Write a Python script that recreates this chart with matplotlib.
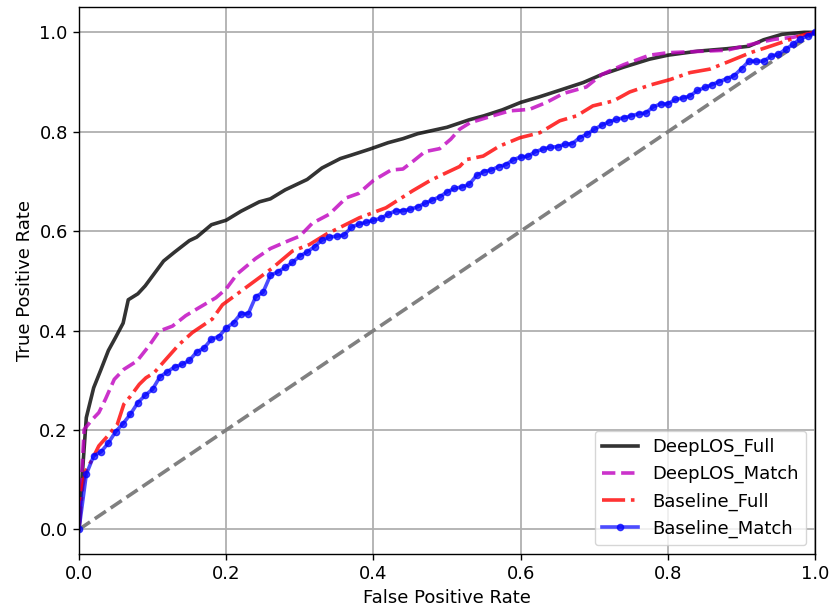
import numpy as np
import matplotlib
matplotlib.use('Agg')
import matplotlib.pyplot as plt

# ROC curves
deep_full_fpr = [0, 0.005, 0.01, 0.02, 0.03, 0.04, 0.05, 0.06, 0.067, 0.08, 0.09, 0.10, 0.115, 0.13,
                 0.15, 0.16, 0.18, 0.20, 0.22, 0.245, 0.26, 0.28, 0.31, 0.33, 0.355, 0.37, 0.395, 0.42,
                 0.44, 0.46, 0.50, 0.53, 0.55, 0.575, 0.60, 0.625, 0.65, 0.685, 0.71, 0.74, 0.775, 0.80,
                 0.84, 0.88, 0.91, 0.93, 0.955, 0.985, 1.0]
deep_full_tpr = [0, 0.12, 0.225, 0.285, 0.322, 0.36, 0.387, 0.415, 0.462, 0.474, 0.49, 0.51, 0.54, 0.558,
                 0.581, 0.588, 0.613, 0.622, 0.640, 0.659, 0.665, 0.683, 0.704, 0.727, 0.746, 0.753, 0.765, 0.778,
                 0.786, 0.796, 0.809, 0.824, 0.832, 0.844, 0.859, 0.870, 0.882, 0.899, 0.915, 0.930, 0.946, 0.954,
                 0.962, 0.967, 0.972, 0.985, 0.996, 1.0, 1.0]

deep_match_fpr = [0, 0.007, 0.018, 0.027, 0.036, 0.048, 0.061, 0.079, 0.095, 0.109, 0.127, 0.145, 0.163,
                  0.186, 0.20, 0.215, 0.24, 0.26, 0.285, 0.30, 0.317, 0.34, 0.363, 0.38, 0.40, 0.424, 0.44,
                  0.455, 0.47, 0.49, 0.505, 0.517, 0.531, 0.553, 0.585, 0.612, 0.635, 0.658, 0.689, 0.71,
                  0.74, 0.775, 0.80, 0.88, 0.925, 0.945, 0.97, 1.0]
deep_match_tpr = [0, 0.201, 0.221, 0.235, 0.262, 0.302, 0.322, 0.339, 0.369, 0.399, 0.409, 0.430, 0.446,
                  0.466, 0.484, 0.514, 0.545, 0.565, 0.581, 0.590, 0.616, 0.634, 0.667, 0.676, 0.702, 0.723, 0.725,
                  0.742, 0.760, 0.766, 0.785, 0.805, 0.818, 0.828, 0.842, 0.845, 0.859, 0.877, 0.890, 0.915,
                  0.935, 0.954, 0.959, 0.964, 0.980, 0.986, 0.990, 1.0]

base_full_fpr = [0, 0.005, 0.009, 0.018, 0.027, 0.039, 0.052, 0.061, 0.070, 0.082, 0.091, 0.102, 0.118,
                 0.136, 0.154, 0.181, 0.195, 0.218, 0.240, 0.262, 0.29, 0.313, 0.336, 0.358, 0.381, 0.399,
                 0.417, 0.435, 0.453, 0.476, 0.494, 0.517, 0.526, 0.549, 0.571, 0.599, 0.626, 0.653, 0.676,
                 0.698, 0.726, 0.748, 0.776, 0.803, 0.830, 0.857, 0.884, 0.912, 0.939, 0.961, 0.980, 1.0]
base_full_tpr = [0, 0.087, 0.117, 0.141, 0.168, 0.188, 0.211, 0.252, 0.268, 0.292, 0.305, 0.315, 0.342,
                 0.372, 0.396, 0.423, 0.452, 0.477, 0.501, 0.525, 0.560, 0.573, 0.594, 0.610, 0.627, 0.637,
                 0.647, 0.664, 0.681, 0.701, 0.714, 0.730, 0.744, 0.751, 0.771, 0.788, 0.798, 0.822, 0.832,
                 0.852, 0.862, 0.880, 0.894, 0.905, 0.919, 0.926, 0.942, 0.959, 0.972, 0.983, 0.993, 1.0]

# baseline match is on a 0.01 fpr grid (one marker per step)
base_match_fpr = [i / 100 for i in range(101)]
base_match_tpr = [0.0, 0.111, 0.148, 0.156, 0.174, 0.197, 0.213, 0.232, 0.255, 0.270,
                  0.282, 0.307, 0.317, 0.327, 0.332, 0.340, 0.357, 0.365, 0.383, 0.388,
                  0.405, 0.416, 0.434, 0.434, 0.468, 0.477, 0.511, 0.518, 0.527, 0.537,
                  0.550, 0.558, 0.569, 0.582, 0.588, 0.590, 0.592, 0.608, 0.614, 0.618,
                  0.622, 0.626, 0.634, 0.641, 0.641, 0.644, 0.649, 0.656, 0.663, 0.669,
                  0.679, 0.686, 0.689, 0.694, 0.712, 0.720, 0.723, 0.730, 0.734, 0.744,
                  0.749, 0.751, 0.760, 0.765, 0.769, 0.770, 0.775, 0.776, 0.788, 0.795,
                  0.805, 0.813, 0.820, 0.825, 0.828, 0.832, 0.836, 0.838, 0.850, 0.856,
                  0.856, 0.865, 0.868, 0.872, 0.883, 0.889, 0.895, 0.901, 0.907, 0.913,
                  0.927, 0.942, 0.942, 0.942, 0.952, 0.956, 0.966, 0.976, 0.987, 0.993,
                  1.0]

plt.rcParams['font.size'] = 13

fig = plt.figure(figsize=(8.31, 6.11), dpi=100)
ax = fig.add_axes([0.095, 0.0928, 0.886, 0.895])

ax.plot([0, 1], [0, 1], linestyle='--', lw=2.6, color='gray', zorder=1)
ax.plot(deep_full_fpr, deep_full_tpr, '-', color='k', alpha=0.8, lw=2.6, label='DeepLOS_Full')
ax.plot(deep_match_fpr, deep_match_tpr, '--', color='m', alpha=0.8, lw=2.6, label='DeepLOS_Match')
ax.plot(base_full_fpr, base_full_tpr, '-.', color='r', alpha=0.8, lw=2.6, label='Baseline_Full')
ax.plot(base_match_fpr, base_match_tpr, '-', marker='o', ms=4.5, color='b', alpha=0.7, lw=2.6,
        label='Baseline_Match')

ax.set_xlim(0, 1)
ax.set_ylim(-0.05, 1.05)
ax.set_xticks(np.arange(0, 1.01, 0.2))
ax.set_yticks(np.arange(0, 1.01, 0.2))
ax.grid(True, color='#b0b0b0', lw=1.3)
ax.set_axisbelow(True)
ax.tick_params(length=4.5, width=1.0)
for s in ax.spines.values():
    s.set_linewidth(1.0)
ax.set_xlabel('False Positive Rate')
ax.set_ylabel('True Positive Rate')
ax.legend(loc='lower right')

plt.savefig('out.png', dpi=100)
